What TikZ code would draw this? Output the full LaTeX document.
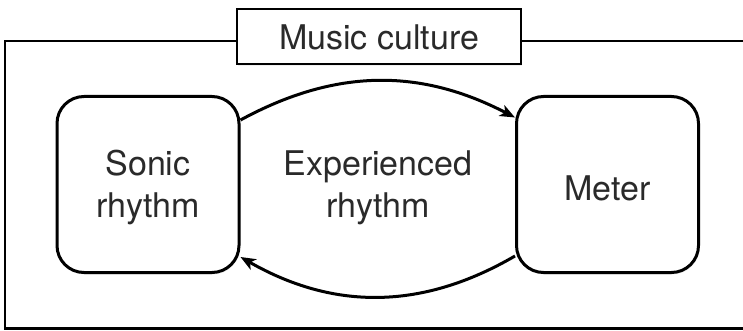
\documentclass[tikz,border=0pt]{standalone}
\usepackage{fontspec}
\setmainfont{TeX Gyre Heros}
\usetikzlibrary{arrows.meta,shadows}
\definecolor{txt}{HTML}{2A2A2A}
\begin{document}
\begin{tikzpicture}[x=1pt,y=-1pt,
  lbl/.style={font=\fontsize{34}{42}\selectfont, text=txt, align=center},
  rbox/.style={draw=black, line width=3pt, rounded corners=27pt, fill=white,
    minimum width=182pt, minimum height=176pt, inner sep=0pt,
    drop shadow={opacity=0.12, shadow xshift=1pt, shadow yshift=-2pt}},
  tbox/.style={draw=black, line width=2.8pt, fill=white, inner sep=0pt,
    minimum width=284pt, minimum height=55pt,
    drop shadow={opacity=0.12, shadow xshift=1pt, shadow yshift=-2pt}},
  conn/.style={line width=3pt, -{Stealth[length=15pt,width=12pt,inset=4pt]}}
]
\useasboundingbox (0,0) rectangle (743,331);
\draw[line width=2.8pt] (5,41) rectangle (748,328.5);
\node[tbox] (T) at (379,36.5) {};
\node[lbl, anchor=base] (Tt) at (379,50) {Music culture};
\node[rbox] (L) at (148,184.5) {};
\node[rbox] (R) at (607.5,184.5) {};
\node[lbl] (Lt) at (148,188) {Sonic\\rhythm};
\node[lbl] (Rt) at (607.5,188) {Meter};
\node[lbl] (M) at (378,188) {Experienced\\rhythm};
\draw[conn] ([yshift=64.5pt]L.east) to[bend left=28] ([yshift=67pt]R.west);
\draw[conn] ([yshift=-71.5pt]R.west) to[bend left=30] ([yshift=-72.5pt]L.east);
\end{tikzpicture}
\end{document}
